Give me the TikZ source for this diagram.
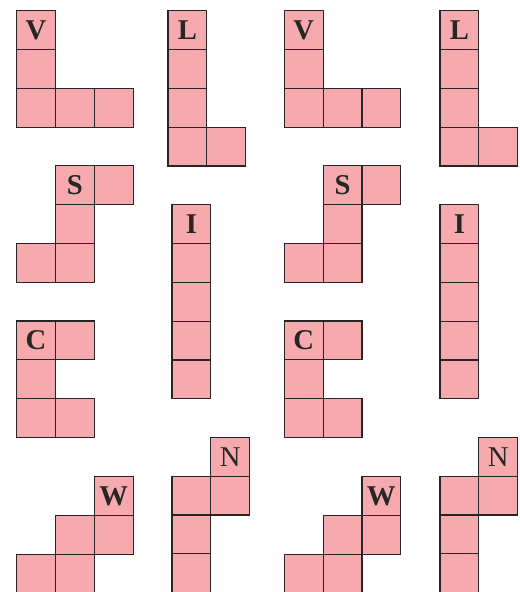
\documentclass[tikz,border=0pt]{standalone}
\usepackage{fontspec}
\setmainfont{Liberation Serif}
\definecolor{tilepink}{HTML}{F6AAAE}
\definecolor{tileline}{HTML}{262626}
\begin{document}
\begin{tikzpicture}[x=0.75pt,y=-0.75pt,
    cell/.style={fill=tilepink,draw=tileline,line width=0.9pt},
    lbl/.style={text=tileline,font=\fontsize{21.5}{21.5}\selectfont\bfseries,inner sep=0pt}]
  \useasboundingbox (0,0) rectangle (520,592);
  % two copies of the same seven pieces, side by side
  \foreach \side/\dx/\ex/\fx in {a/16.7/168/172, b/284.3/440/440}{
    % V
    \begin{scope}[shift={(\dx,10.7)}]
      \foreach \c/\r in {0/0,0/1,0/2,1/2,2/2}
        \draw[cell] (\c*38.8,\r*38.8) rectangle ++(38.8,38.8);
      \node[lbl] (v\side) at (19.4,19.4) {V};
    \end{scope}
    % L
    \begin{scope}[shift={(\ex,10.7)}]
      \foreach \c/\r in {0/0,0/1,0/2,0/3,1/3}
        \draw[cell] (\c*38.8,\r*38.8) rectangle ++(38.8,38.8);
      \node[lbl] (l\side) at (19.4,19.4) {L};
    \end{scope}
    % S
    \begin{scope}[shift={(\dx,165.7)}]
      \foreach \c/\r in {1/0,2/0,1/1,0/2,1/2}
        \draw[cell] (\c*38.8,\r*38.8) rectangle ++(38.8,38.8);
      \node[lbl] (s\side) at (58.2,19.4) {S};
    \end{scope}
    % I
    \begin{scope}[shift={(\fx,204.7)}]
      \foreach \r in {0,...,4}
        \draw[cell] (0,\r*38.8) rectangle ++(38.8,38.8);
      \node[lbl] (i\side) at (19.4,19.4) {I};
    \end{scope}
    % C
    \begin{scope}[shift={(\dx,321)}]
      \foreach \c/\r in {0/0,1/0,0/1,0/2,1/2}
        \draw[cell] (\c*38.8,\r*38.8) rectangle ++(38.8,38.8);
      \node[lbl] (c\side) at (19.4,19.4) {C};
    \end{scope}
    % W
    \begin{scope}[shift={(\dx,476.7)}]
      \foreach \c/\r in {2/0,1/1,2/1,0/2,1/2}
        \draw[cell] (\c*38.8,\r*38.8) rectangle ++(38.8,38.8);
      \node[lbl] (w\side) at (97,19.4) {W};
    \end{scope}
    % N
    \begin{scope}[shift={(\fx,437.3)}]
      \foreach \c/\r in {1/0,0/1,1/1,0/2,0/3}
        \draw[cell] (\c*38.8,\r*38.8) rectangle ++(38.8,38.8);
      \node[lbl,font=\fontsize{21.5}{21.5}\selectfont] (n\side) at (58.2,19.4) {N};
    \end{scope}
  }
\end{tikzpicture}
\end{document}
